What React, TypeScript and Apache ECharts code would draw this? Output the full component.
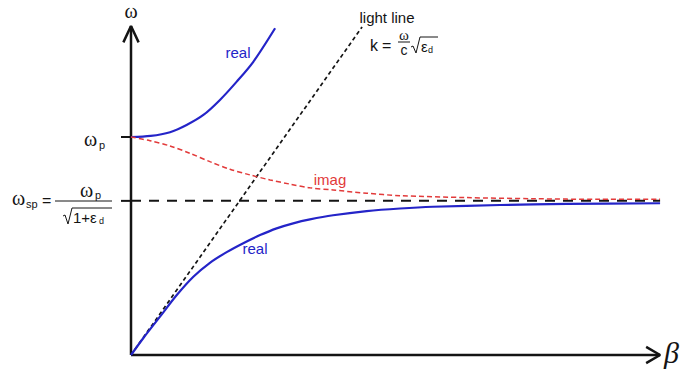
import React, { useEffect, useRef } from "react";
import * as echarts from "echarts";

// Dispersion data (beta in arbitrary units, omega normalised to omega_p)
const BETA_UPPER = [0, 0.09, 0.179, 0.255, 0.332, 0.408, 0.485, 0.561, 0.661];
const OMEGA_UPPER = [1.0, 1.005, 1.022, 1.055, 1.101, 1.17, 1.254, 1.345, 1.499];

const BETA_LOWER = [0, 0.056, 0.133, 0.21, 0.286, 0.362, 0.439, 0.515, 0.592, 0.668, 0.744, 0.821, 0.927, 1.081, 1.234, 1.385, 1.693, 1.999, 2.427];
const OMEGA_LOWER = [0, 0.077, 0.176, 0.275, 0.359, 0.423, 0.472, 0.513, 0.55, 0.581, 0.604, 0.622, 0.641, 0.66, 0.672, 0.68, 0.688, 0.693, 0.696];

const BETA_IMAG = [0, 0.087, 0.179, 0.271, 0.362, 0.454, 0.546, 0.638, 0.729, 0.821, 0.927, 1.081, 1.234, 1.54, 1.844, 2.151, 2.427];
const OMEGA_IMAG = [1.0, 0.983, 0.959, 0.925, 0.887, 0.852, 0.826, 0.803, 0.784, 0.767, 0.757, 0.742, 0.731, 0.722, 0.717, 0.714, 0.714];

const BETA_LIGHT = [0, 1.06];
const OMEGA_LIGHT = [0, 1.505];

const OMEGA_P = 1.0;
const OMEGA_SP = 0.707;
const X_END = 2.427;
const Y_END = 1.509;

const LABELS = { real: "real", imag: "imag", light: "light line" };

const zip = (a: number[], b: number[]) => a.map((v, i) => [v, b[i]]);

const BLUE = "#2424c8";
const RED = "#e23a3a";
const INK = "#141414";
const SANS = "Liberation Sans, Arial, sans-serif";
const SERIF = "Liberation Serif, Times New Roman, serif";

export default function App() {
  const ref = useRef<HTMLDivElement>(null);
  useEffect(() => {
    if (!ref.current) return;
    const chart = echarts.init(ref.current, undefined, { renderer: "svg" });
    const PX = 218; // pixels per unit
    const OX = 131;
    const OY = 355;
    const line = (data: number[][], color: string, width: number, type: any = "solid", z = 2) => ({
      type: "line",
      data,
      showSymbol: false,
      symbol: "none",
      silent: true,
      z,
      lineStyle: { color, width, type },
    });
    const curve = (data: number[][], color: string, width: number, type: any = "solid", z = 3) => ({
      ...line(data, color, width, type, z),
      smooth: 0.3,
    });
    const t = (x: number, y: number, text: string, font: string, size: number, extra: any = {}) => ({
      type: "text",
      x,
      y,
      silent: true,
      style: {
        text,
        fontFamily: font,
        fontSize: size,
        fill: INK,
        align: "left",
        verticalAlign: "middle",
        ...extra,
      },
    });
    const seg = (pts: number[][], w = 1) => ({
      type: "polyline",
      silent: true,
      shape: { points: pts },
      style: { stroke: INK, lineWidth: w, fill: "none" },
    });
    chart.setOption({
      animation: false,
      grid: { left: 0, right: 0, top: 0, bottom: 0, containLabel: false },
      xAxis: { type: "value", min: -OX / PX, max: (690 - OX) / PX, show: false },
      yAxis: { type: "value", min: -(378 - OY) / PX, max: OY / PX, show: false },
      series: [
        // axes
        line([[0, 0], [X_END, 0]], INK, 2.5),
        line([[X_END - 0.064, 0.037], [X_END, 0], [X_END - 0.064, -0.037]], INK, 2.5),
        line([[0, 0], [0, Y_END]], INK, 2.5),
        line([[-0.035, Y_END - 0.075], [0, Y_END], [0.035, Y_END - 0.075]], INK, 2.5),
        // ticks
        line([[-0.046, OMEGA_P], [0, OMEGA_P]], INK, 2),
        line([[-0.046, OMEGA_SP], [0, OMEGA_SP]], INK, 2),
        // asymptote
        line([[0, OMEGA_SP], [X_END, OMEGA_SP]], INK, 2, [10, 8], 2),
        // light line
        line(zip(BETA_LIGHT, OMEGA_LIGHT), INK, 1.7, [4, 3], 3),
        // curves
        curve(zip(BETA_UPPER, OMEGA_UPPER), BLUE, 2.2, "solid", 4),
        curve(zip(BETA_LOWER, OMEGA_LOWER), BLUE, 2.2, "solid", 4),
        curve(zip(BETA_IMAG, OMEGA_IMAG), RED, 1.5, [5, 3], 4),
      ],
      graphic: [
        // axis titles
        t(131, 11, "ω", SERIF, 20, { align: "center" }),
        t(664, 352, "β", SERIF, 30, { fontStyle: "italic" }),
        // omega_p
        t(84, 139, "ω", SERIF, 20),
        t(99, 145, "p", SANS, 11),
        // omega_sp formula
        t(12, 198, "ω", SERIF, 20),
        t(26, 204, "sp", SANS, 11),
        t(42, 200, "=", SANS, 16),
        seg([[55, 201], [112, 201]], 1),
        t(80, 190, "ω", SERIF, 20),
        t(95, 195, "p", SANS, 11),
        seg([[63, 216], [65, 215], [68, 224], [72, 208], [112, 208]], 1),
        t(73, 217, "1+ε", SANS, 15),
        t(99, 221, "d", SANS, 9),
        // light line label
        t(387, 17, LABELS.light, SANS, 15, { align: "center" }),
        t(370, 45, "k", SANS, 16),
        t(382, 45, "=", SANS, 16),
        t(404, 35, "ω", SERIF, 15, { align: "center" }),
        seg([[398, 42], [410, 42]], 1),
        t(404, 50, "c", SANS, 14, { align: "center" }),
        seg([[411, 47], [413, 46], [416, 53], [420, 37], [438, 37]], 1),
        t(421, 46, "ε", SANS, 15),
        t(428, 50, "d", SANS, 9),
        // curve labels
        t(238, 52, LABELS.real, SANS, 15, { align: "center", fill: BLUE }),
        t(330, 179, LABELS.imag, SANS, 15, { align: "center", fill: RED }),
        t(255, 248, LABELS.real, SANS, 15, { align: "center", fill: BLUE }),
      ],
    });
    return () => chart.dispose();
  }, []);
  return (
    <div
      ref={ref}
      style={{ position: "fixed", left: 0, top: 0, width: 690, height: 378, background: "#fff" }}
    />
  );
}
